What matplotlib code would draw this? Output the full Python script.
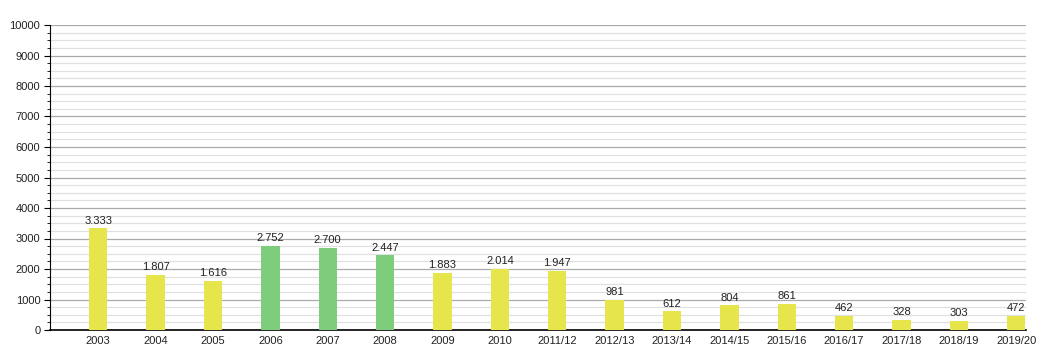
import matplotlib.pyplot as plt
from matplotlib.ticker import MultipleLocator

plt.rcParams['font.family'] = ['Liberation Sans', 'DejaVu Sans']

# Dados
anos = ["2003", "2004", "2005", "2006", "2007", "2008", "2009", "2010", "2011/12",
        "2012/13", "2013/14", "2014/15", "2015/16", "2016/17", "2017/18", "2018/19", "2019/20"]
valores = [3333, 1807, 1616, 2752, 2700, 2447, 1883, 2014, 1947,
           981, 612, 804, 861, 462, 328, 303, 472]
rotulos = ["3.333", "1.807", "1.616", "2.752", "2.700", "2.447", "1.883", "2.014", "1.947",
           "981", "612", "804", "861", "462", "328", "303", "472"]
destaque = ["2006", "2007", "2008"]

amarelo = "#e6e64c"
verde = "#7dcd7d"
cores = [verde if a in destaque else amarelo for a in anos]

fig = plt.figure(figsize=(10.45, 3.6), dpi=100)
ax = fig.add_axes([50/1045, 30/360, 976/1045, 305/360])

x = list(range(len(anos)))
ax.bar(x, valores, width=0.32, color=cores, zorder=3)

for xi, v, r in zip(x, valores, rotulos):
    ax.text(xi, v + 90, r, ha="center", va="bottom", fontsize=8, color="#222222", zorder=4)

ax.set_ylim(0, 10000)
ax.set_xlim(-0.84, len(anos) - 1 + 0.17)
ax.yaxis.set_major_locator(MultipleLocator(1000))
ax.yaxis.set_minor_locator(MultipleLocator(250))
ax.grid(axis="y", which="major", color="#aaaaaa", linewidth=0.9, zorder=0)
ax.grid(axis="y", which="minor", color="#e0e0e0", linewidth=0.9, zorder=0)

ax.set_xticks(x)
ax.set_xticklabels(anos)
ax.tick_params(axis="x", length=0, labelsize=8, pad=4, labelcolor="#222222")
ax.tick_params(axis="y", which="major", length=4, labelsize=8, pad=3, labelcolor="#222222")
ax.tick_params(axis="y", which="minor", length=2.5)

for s in ["top", "right"]:
    ax.spines[s].set_visible(False)
ax.spines["left"].set_color("black")
ax.spines["bottom"].set_color("black")
ax.spines["bottom"].set_linewidth(1.2)

fig.savefig("out.png", dpi=100)
